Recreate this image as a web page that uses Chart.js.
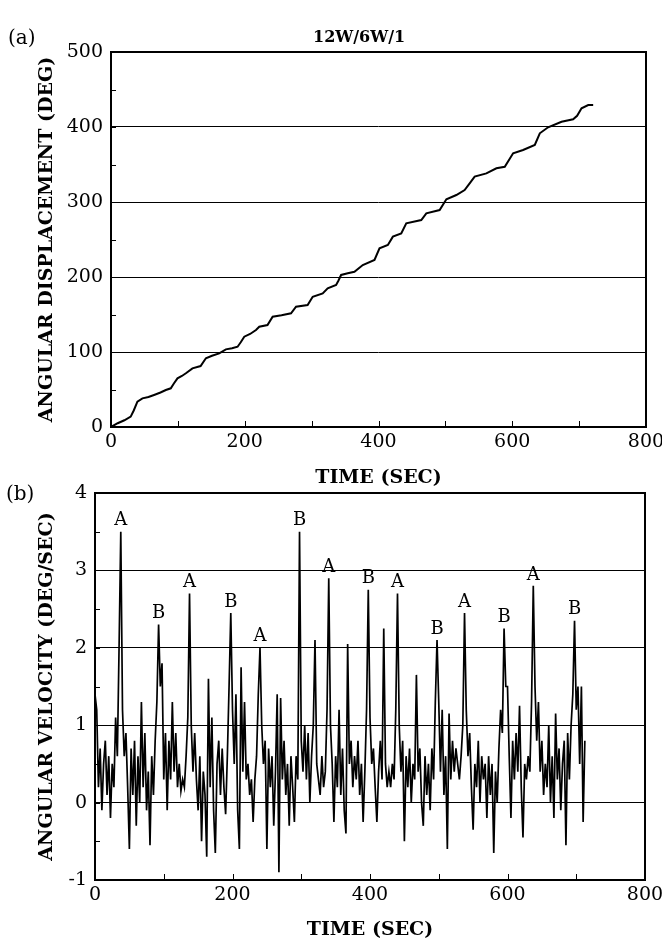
<!DOCTYPE html>
<html lang="en">
<head>
<meta charset="UTF-8">
<title>12W/6W/1</title>
<script src="https://cdn.jsdelivr.net/npm/chart.js"></script>
<style>
  body { margin: 0; background: #fff; width: 662px; height: 945px; position: relative; overflow: hidden; font-family: "DejaVu Serif", serif; color: #000; }
  .lbl { position: absolute; z-index: 5; white-space: nowrap; }
  #boxA { position: absolute; left: 0; top: 0; width: 662px; height: 495px; }
  #boxB { position: absolute; left: 0; top: 480px; width: 662px; height: 465px; }
</style>
</head>
<body>
<div class="lbl" style="left:8px; top:25px; font-size:20px;">(a)</div>
<div class="lbl" style="left:313px; top:27px; font-size:16px; font-weight:bold;">12W/6W/1</div>
<div class="lbl" style="left:6px; top:481px; font-size:20px;">(b)</div>
<div id="boxA"><canvas id="chartA"></canvas></div>
<div id="boxB"><canvas id="chartB"></canvas></div>
<script>
// (a) angular displacement
const dispTime = [0, 10, 20, 29.5, 34, 39.5, 47, 56, 64.4, 74, 82, 89.4, 94, 99.4, 106, 112, 121.8, 134, 141.9, 151,
  161.8, 171.8, 181, 189.3, 194, 199.3, 208, 216.8, 221.7, 234, 241.7, 255, 269.2, 276.7, 294, 301.6, 316.6, 324, 336.6, 340,
  344.1, 354, 364, 376.5, 394, 401.5, 414, 421.5, 434, 441.5, 464, 471.5, 491.4, 501.5, 516.4, 528.8, 536.3, 543.8, 561.3, 576.3,
  588.8, 601.3, 616.2, 633.7, 641.2, 653.6, 673.7, 691, 697, 703.6, 713.6, 721]
const dispValue = [0, 5, 9, 13.8, 22, 33.8, 38.2, 40, 42.7, 46, 49.3, 51.6, 58, 64.9, 68, 71.6, 78.2, 81.3, 91.6, 95,
  98.2, 103.5, 105, 107, 113, 120.4, 124, 129.3, 133.7, 136, 147, 149, 151.6, 160.4, 162.7, 173.7, 178.2, 185, 189.3, 195,
  202.7, 205, 207, 216, 222.7, 238.2, 242.7, 253.8, 258.2, 271.6, 276, 284.9, 289.3, 303.6, 309.3, 316, 324.9, 333.8, 338.2, 344.9,
  347, 364.9, 369.3, 376, 391.6, 399.6, 407, 410.2, 415, 425, 429.3, 429.3]

// (b) angular velocity, one reading every velStep seconds from t = 0
const velStep = 2.5
const velValue = [
  1.4, 1.2, 0.2, 0.7, -0.1, 0.5, 0.8, 0.1, 0.6, -0.2, 0.5, 0.2, 1.1, 0.6, 2.0, 3.5, 1.2, 0.6, 0.9, 0.2,
  -0.6, 0.7, 0.1, 0.8, -0.3, 0.6, 0.0, 1.3, 0.2, 0.9, -0.1, 0.4, -0.55, 0.6, 0.1, 0.8, 1.3, 2.3, 1.5, 1.8,
  0.3, 0.9, -0.1, 0.8, 0.3, 1.3, 0.4, 0.9, 0.2, 0.5, 0.15, 0.3, 0.2, 0.6, 1.1, 2.7, 1.0, 0.4, 0.9, 0.3,
  -0.1, 0.6, -0.5, 0.4, 0.1, -0.7, 1.6, 0.2, 1.1, -0.1, -0.65, 0.5, 0.8, 0.1, 0.7, 0.2, -0.15, 0.6, 1.5, 2.45,
  1.2, 0.5, 1.4, -0.1, -0.6, 1.75, 0.4, 1.3, 0.3, 0.5, 0.1, 0.3, -0.25, 0.3, 0.6, 1.4, 2.0, 1.0, 0.5, 0.8,
  -0.6, 0.7, 0.2, 0.6, -0.3, 0.4, 1.4, -0.9, 1.35, 0.3, 0.8, 0.1, 0.5, -0.3, 0.6, 0.2, -0.25, 0.6, 0.3, 3.5,
  0.8, 0.4, 1.0, 0.3, 0.9, 0.0, 0.6, 1.0, 2.1, 0.5, 0.3, 0.1, 0.6, 0.2, 0.4, 1.2, 2.9, 1.0, 0.5, -0.25,
  0.6, 0.2, 1.2, 0.1, 0.7, -0.1, -0.4, 2.05, 0.5, 0.8, 0.2, 0.6, 0.3, 0.8, 0.1, 0.5, -0.25, 0.4, 1.2, 2.75,
  1.1, 0.5, 0.7, 0.2, -0.25, 0.4, 0.8, 0.3, 2.25, 0.5, 0.2, 0.4, 0.2, 0.5, 0.3, 1.2, 2.7, 1.0, 0.4, 0.8,
  -0.5, 0.6, 0.2, 0.7, 0.0, 0.5, 0.3, 1.65, 0.4, 0.7, 0.0, -0.3, 0.6, 0.1, 0.5, -0.1, 0.7, 0.3, 1.3, 2.1,
  1.3, 0.4, 1.2, 0.1, 0.6, -0.6, 1.15, 0.3, 0.8, 0.4, 0.7, 0.5, 0.3, 0.6, 1.0, 2.45, 1.2, 0.6, 0.9, 0.2,
  -0.35, 0.5, 0.2, 0.8, 0.0, 0.6, 0.3, 0.5, -0.2, 0.6, 0.1, 0.5, -0.65, 0.4, 0.0, 0.7, 1.2, 0.9, 2.25, 1.5,
  1.5, 0.6, -0.2, 0.8, 0.3, 0.9, 0.4, 1.25, 0.2, -0.45, 0.5, 0.3, 0.6, 0.4, 1.3, 2.8, 1.5, 0.8, 1.3, 0.4,
  0.8, 0.1, 0.5, 0.2, 1.0, 0.0, 0.6, -0.2, 1.15, 0.3, 0.7, -0.1, 0.5, 0.8, -0.55, 0.9, 0.3, 1.0, 1.4, 2.35,
  1.2, 1.5, 0.5, 1.5, -0.25, 0.8
]

// peak markers in (b)
const peakTimes = [37.5, 92.5, 137.5, 197.5, 240, 297.5, 340, 397.5, 440, 497.5, 537.5, 595, 637.5, 697.5]
const peakLetters = ['A', 'B', 'A', 'B', 'A', 'B', 'A', 'B', 'A', 'B', 'A', 'B', 'A', 'B']

const tickFont = { family: 'DejaVu Serif', size: 19 }
const titleFont = { family: 'DejaVu Serif', size: 19, weight: 'bold' }

// box around the plot plus short inward tick marks
const frame = {
  id: 'frame',
  afterDatasetsDraw(chart, args, opts) {
    const { ctx, chartArea: a, scales: { x, y } } = chart
    ctx.save()
    ctx.strokeStyle = '#000'
    ctx.lineWidth = 1
    ctx.beginPath()
    for (let v = y.min + opts.yMinor; v < y.max; v += opts.yMinor) {
      const py = Math.round(y.getPixelForValue(v)) + 0.5
      ctx.moveTo(a.left, py)
      ctx.lineTo(a.left + 5, py)
    }
    for (let v = x.min + opts.xMinor; v < x.max; v += opts.xMinor) {
      const px = Math.round(x.getPixelForValue(v)) + 0.5
      ctx.moveTo(px, a.bottom)
      ctx.lineTo(px, a.bottom - 6)
    }
    ctx.stroke()
    ctx.lineWidth = 2
    ctx.strokeRect(a.left, a.top, a.right - a.left, a.bottom - a.top)
    ctx.restore()
  }
}

const peakText = {
  id: 'peakText',
  afterDatasetsDraw(chart) {
    if (chart.canvas.id !== 'chartB') return
    const { ctx, scales: { x, y } } = chart
    ctx.save()
    ctx.fillStyle = '#000'
    ctx.font = '18px "DejaVu Serif"'
    ctx.textAlign = 'center'
    ctx.textBaseline = 'bottom'
    peakTimes.forEach((t, i) => {
      const v = velValue[Math.round(t / velStep)]
      ctx.fillText(peakLetters[i], x.getPixelForValue(t), y.getPixelForValue(v) - 2)
    })
    ctx.restore()
  }
}

function makeChart(id, points, cfg) {
  return new Chart(document.getElementById(id), {
    type: 'line',
    data: {
      datasets: [{
        data: points,
        borderColor: '#000',
        borderWidth: cfg.lineWidth,
        pointRadius: 0,
        tension: 0,
        fill: false
      }]
    },
    options: {
      responsive: true,
      maintainAspectRatio: false,
      animation: false,
      events: [],
      layout: { padding: { left: 0, top: cfg.padTop, right: cfg.padRight, bottom: 0 } },
      plugins: {
        legend: { display: false },
        tooltip: { enabled: false },
        frame: { xMinor: 100, yMinor: cfg.yMinor }
      },
      scales: {
        x: {
          type: 'linear',
          min: 0,
          max: 800,
          afterFit: s => { s.height = cfg.xHeight; s.paddingLeft = 0; s.paddingRight = 0 },
          grid: { display: false, drawTicks: false },
          border: { display: false },
          ticks: { stepSize: 200, font: tickFont, color: '#000', padding: 4, maxRotation: 0 },
          title: { display: true, text: 'TIME (SEC)', font: titleFont, color: '#000', padding: { top: 0, bottom: cfg.xTitlePad } }
        },
        y: {
          min: cfg.yMin,
          max: cfg.yMax,
          afterFit: s => { s.width = cfg.yWidth; s.paddingTop = 0; s.paddingBottom = 0 },
          grid: {
            drawTicks: false,
            lineWidth: 1,
            color: c => (c.tick.value === cfg.yMin || c.tick.value === cfg.yMax) ? 'rgba(0,0,0,0)' : '#000'
          },
          border: { display: false },
          ticks: { stepSize: cfg.yStep, font: tickFont, color: '#000', padding: 8 },
          title: { display: true, text: cfg.yTitle, font: titleFont, color: '#000', padding: { top: 36, bottom: 0 } }
        }
      }
    },
    plugins: [frame, peakText]
  })
}

const dispPoints = dispTime.map((t, i) => ({ x: t, y: dispValue[i] }))
const velPoints = velValue.map((v, i) => ({ x: i * velStep, y: v }))

makeChart('chartA', dispPoints, {
  lineWidth: 2, padTop: 52, padRight: 16, xHeight: 68, yWidth: 111, xTitlePad: 6,
  yMin: 0, yMax: 500, yStep: 100, yMinor: 50, yTitle: 'ANGULAR DISPLACEMENT (DEG)'
})

makeChart('chartB', velPoints, {
  lineWidth: 1.7, padTop: 13, padRight: 17, xHeight: 65, yWidth: 95, xTitlePad: 4,
  yMin: -1, yMax: 4, yStep: 1, yMinor: 0.5, yTitle: 'ANGULAR VELOCITY (DEG/SEC)'
})
</script>
</body>
</html>
